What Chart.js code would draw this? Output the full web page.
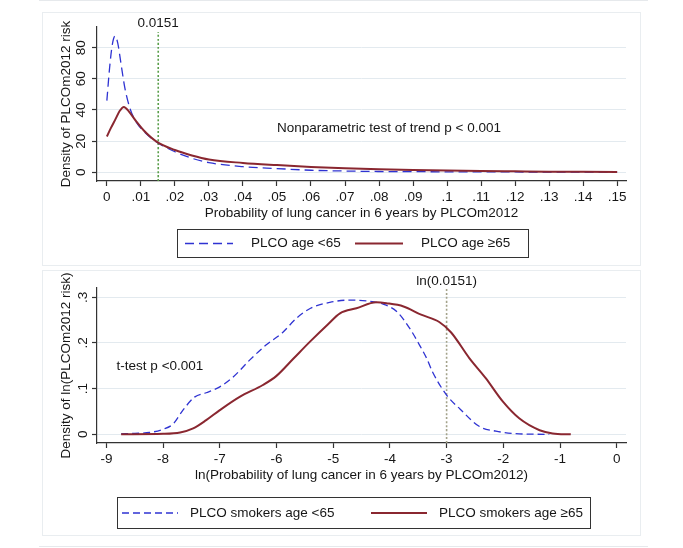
<!DOCTYPE html>
<html>
<head>
<meta charset="utf-8">
<script src="https://cdn.jsdelivr.net/npm/chart.js@4.4.1/dist/chart.umd.min.js"></script>
<style>
  html, body { margin: 0; padding: 0; background: #fff; width: 683px; height: 548px; overflow: hidden; }
  .rule { position: absolute; left: 39px; width: 609px; height: 1px; background: #e6e9ec; }
  .panel { position: absolute; left: 42px; width: 597px; border: 1px solid #e9edf0; }
  canvas { position: absolute; left: 0; }
</style>
</head>
<body>
<div class="rule" style="top:0"></div>
<div class="panel" style="top:12px;height:252px"></div>
<div class="panel" style="top:270px;height:264px"></div>
<div class="rule" style="top:546px"></div>
<canvas id="riskChart" style="top:0" width="683" height="268"></canvas>
<canvas id="lnChart" style="top:268px" width="683" height="280"></canvas>
<script>
// ─── DATA: top panel, density of PLCOm2012 risk ───
const riskXYoung = [0, 0.0008, 0.0016, 0.0024, 0.0032, 0.004, 0.0053, 0.0068, 0.0087, 0.011, 0.0146, 0.02, 0.025, 0.03, 0.04, 0.05, 0.06, 0.07, 0.08, 0.09, 0.10, 0.11, 0.12, 0.13, 0.14, 0.15];
const riskYYoung = [46, 67, 82, 87.5, 83, 72, 54, 41, 32, 26, 19.5, 13.2, 9, 6.2, 3.6, 2.4, 1.3, 0.8, 0.5, 0.4, 0.3, 0.25, 0.2, 0.15, 0.12, 0.1];
const riskXOld   = [0, 0.0012, 0.0025, 0.0038, 0.005, 0.0065, 0.0087, 0.011, 0.0146, 0.02, 0.025, 0.03, 0.04, 0.05, 0.06, 0.07, 0.08, 0.09, 0.10, 0.11, 0.12, 0.13, 0.14, 0.15];
const riskYOld   = [23, 28.5, 34, 39.5, 42, 39, 32.5, 26.5, 19.7, 14.3, 10.8, 8.2, 6, 4.6, 3.4, 2.6, 2.0, 1.5, 1.1, 0.8, 0.6, 0.4, 0.3, 0.2];
const riskXTicks = [0, 0.01, 0.02, 0.03, 0.04, 0.05, 0.06, 0.07, 0.08, 0.09, 0.1, 0.11, 0.12, 0.13, 0.14, 0.15];
const riskXLabels = ['0', '.01', '.02', '.03', '.04', '.05', '.06', '.07', '.08', '.09', '.1', '.11', '.12', '.13', '.14', '.15'];
const riskYTicks = [0, 20, 40, 60, 80];
const riskYLabels = ['0', '20', '40', '60', '80'];
const riskCut = 0.0151;

// ─── DATA: bottom panel, density of ln(PLCOm2012 risk) ───
const lnXYoung = [-8.74, -8.5, -8.24, -8.0, -7.82, -7.65, -7.44, -7.24, -7.0, -6.76, -6.47, -6.18, -5.9, -5.65, -5.4, -5.06, -4.7, -4.41, -4.12, -3.88, -3.65, -3.48, -3.35, -3.25, -3.0, -2.76, -2.42, -2.13, -1.72, -1.19];
const lnYYoung = [0.001, 0.002, 0.004, 0.011, 0.023, 0.053, 0.082, 0.091, 0.104, 0.126, 0.163, 0.196, 0.222, 0.254, 0.276, 0.289, 0.294, 0.292, 0.285, 0.269, 0.232, 0.196, 0.166, 0.137, 0.086, 0.055, 0.017, 0.007, 0.001, 0];
const lnXOld   = [-8.74, -8.0, -7.7, -7.47, -7.24, -7.0, -6.65, -6.24, -6.0, -5.7, -5.4, -5.1, -4.88, -4.59, -4.24, -4.06, -3.76, -3.45, -3.13, -2.92, -2.6, -2.31, -2.01, -1.72, -1.36, -1.13, -0.81];
const lnYOld   = [0, 0.001, 0.004, 0.013, 0.031, 0.053, 0.082, 0.108, 0.128, 0.166, 0.204, 0.24, 0.265, 0.276, 0.289, 0.287, 0.28, 0.262, 0.246, 0.223, 0.167, 0.123, 0.072, 0.035, 0.009, 0.002, 0];
const lnXTicks = [-9, -8, -7, -6, -5, -4, -3, -2, -1, 0];
const lnXLabels = ['-9', '-8', '-7', '-6', '-5', '-4', '-3', '-2', '-1', '0'];
const lnYTicks = [0, 0.1, 0.2, 0.3];
const lnYLabels = ['0', '.1', '.2', '.3'];
const lnCut = -3;

// ─── STYLE ───
const BLUE = '#2f33d2';
const RED = '#8a2730';
const TEXT = '#161616';
const AXIS = '#333333';
const GRID = '#e3eaef';
const FONT = '"Liberation Sans", Arial, Helvetica, sans-serif';

Chart.defaults.font.family = FONT;
Chart.defaults.font.size = 13.5;
Chart.defaults.color = TEXT;

function pts(xs, ys) {
  return xs.map((x, i) => ({ x: x, y: ys[i] }));
}

// boxed legend drawn below the x title
const boxLegend = {
  id: 'boxLegend',
  afterDraw(chart, args, o) {
    if (!o || !o.width) return;
    const ctx = chart.ctx;
    ctx.save();
    ctx.strokeStyle = AXIS;
    ctx.lineWidth = 1;
    ctx.setLineDash([]);
    ctx.strokeRect(o.left + 0.5, o.top + 0.5, o.width, o.height);
    const cy = o.top + o.height / 2 + 0.5;
    ctx.font = '13.5px ' + FONT;
    ctx.textBaseline = 'middle';
    ctx.textAlign = 'left';
    chart.data.datasets.filter(d => d.inLegend).forEach((d, i) => {
      const x0 = o.left + o.sampleX[i];
      ctx.beginPath();
      ctx.setLineDash(d.borderDash || []);
      ctx.strokeStyle = d.borderColor;
      ctx.lineWidth = d.borderWidth;
      ctx.moveTo(x0, cy);
      ctx.lineTo(x0 + o.sampleW, cy);
      ctx.stroke();
      ctx.setLineDash([]);
      ctx.fillStyle = TEXT;
      ctx.fillText(d.label, x0 + o.sampleW + o.gap, cy);
    });
    ctx.restore();
  }
};

// free text placed in data coordinates
const notes = {
  id: 'notes',
  afterDraw(chart, args, o) {
    if (!o || !o.items) return;
    const ctx = chart.ctx;
    const xs = chart.scales.x, ys = chart.scales.y;
    ctx.save();
    ctx.font = '13.5px ' + FONT;
    ctx.fillStyle = TEXT;
    ctx.textBaseline = 'middle';
    o.items.forEach(n => {
      ctx.textAlign = n.align || 'left';
      const px = xs.getPixelForValue(n.x);
      const py = n.y === undefined ? chart.chartArea.top + n.dy : ys.getPixelForValue(n.y);
      ctx.fillText(n.text, px, py);
    });
    ctx.restore();
  }
};

function axes(xMin, xMax, xTicks, xLabels, yMin, yMax, yTicks, yLabels, xTitle, yTitle) {
  return {
    x: {
      type: 'linear', min: xMin, max: xMax,
      afterBuildTicks: s => { s.ticks = xTicks.map(v => ({ value: v })); },
      afterFit: s => { s.height = 40; },
      border: { color: AXIS, width: 1.2 },
      grid: { drawOnChartArea: false, drawTicks: true, tickLength: 5, tickColor: AXIS, tickWidth: 1.2 },
      ticks: { autoSkip: false, maxRotation: 0, padding: 3, color: TEXT, callback: (v, i) => xLabels[i] },
      title: { display: true, text: xTitle, color: TEXT, padding: { top: 0, bottom: 0 } }
    },
    y: {
      min: yMin, max: yMax,
      afterBuildTicks: s => { s.ticks = yTicks.map(v => ({ value: v })); },
      afterFit: s => { s.width = 40; },
      border: { color: AXIS, width: 1.2 },
      grid: { color: GRID, lineWidth: 1, drawTicks: true, tickLength: 5, tickColor: AXIS, tickWidth: 1.2 },
      ticks: { autoSkip: false, minRotation: 90, maxRotation: 90, crossAlign: 'center', padding: 3, color: TEXT, callback: (v, i) => yLabels[i] },
      title: { display: true, text: yTitle, color: TEXT, padding: { top: 1, bottom: 0 } }
    }
  };
}

// ─── TOP PANEL ───
new Chart(document.getElementById('riskChart'), {
  type: 'line',
  data: {
    datasets: [
      { label: 'PLCO age <65', inLegend: true, data: pts(riskXYoung, riskYYoung), borderColor: BLUE, borderWidth: 1.3, borderDash: [9, 5], order: 2 },
      { label: 'PLCO age \u226565', inLegend: true, data: pts(riskXOld, riskYOld), borderColor: RED, borderWidth: 2, order: 1 },
      { label: 'cut', data: [{ x: riskCut, y: -5.6 }, { x: riskCut, y: 90 }], borderColor: '#5a9e4b', borderWidth: 1.6, borderDash: [2, 2], order: 3 }
    ]
  },
  options: {
    responsive: false, animation: false,
    layout: { padding: { left: 57, right: 57, top: 27, bottom: 47 } },
    elements: { point: { radius: 0 }, line: { cubicInterpolationMode: 'monotone', fill: false } },
    plugins: {
      legend: { display: false }, tooltip: { enabled: false },
      boxLegend: { left: 177, top: 229, width: 351, height: 28, sampleX: [8, 178], sampleW: 48, gap: 18 },
      notes: { items: [
        { x: riskCut, dy: -4, text: '0.0151', align: 'center' },
        { x: 0.05, y: 28.4, text: 'Nonparametric test of trend p < 0.001' }
      ] }
    },
    scales: axes(-0.0029, 0.1526, riskXTicks, riskXLabels, -5.6, 93.3, riskYTicks, riskYLabels,
      'Probability of lung cancer in 6 years by PLCOm2012', 'Density of PLCOm2012 risk')
  },
  plugins: [boxLegend, notes]
});

// ─── BOTTOM PANEL ───
new Chart(document.getElementById('lnChart'), {
  type: 'line',
  data: {
    datasets: [
      { label: 'PLCO smokers age <65', inLegend: true, data: pts(lnXYoung, lnYYoung), borderColor: BLUE, borderWidth: 1.3, borderDash: [7, 4], order: 2 },
      { label: 'PLCO smokers age \u226565', inLegend: true, data: pts(lnXOld, lnYOld), borderColor: RED, borderWidth: 2, order: 1 },
      { label: 'cut', data: [{ x: lnCut, y: -0.019 }, { x: lnCut, y: 0.318 }], borderColor: '#a3a28a', borderWidth: 1.6, borderDash: [2, 2], order: 3 }
    ]
  },
  options: {
    responsive: false, animation: false,
    layout: { padding: { left: 57, right: 57, top: 20, bottom: 65 } },
    elements: { point: { radius: 0 }, line: { cubicInterpolationMode: 'monotone', fill: false } },
    plugins: {
      legend: { display: false }, tooltip: { enabled: false },
      boxLegend: { left: 117, top: 229, width: 473, height: 31, sampleX: [5, 254], sampleW: 56, gap: 12 },
      notes: { items: [
        { x: lnCut, dy: -7, text: 'ln(0.0151)', align: 'center' },
        { x: -8.82, y: 0.150, text: 't-test p <0.001' }
      ] }
    },
    scales: axes(-9.166, 0.164, lnXTicks, lnXLabels, -0.019, 0.3204, lnYTicks, lnYLabels,
      'ln(Probability of lung cancer in 6 years by PLCOm2012)', 'Density of ln(PLCOm2012 risk)')
  },
  plugins: [boxLegend, notes]
});
</script>
</body>
</html>
